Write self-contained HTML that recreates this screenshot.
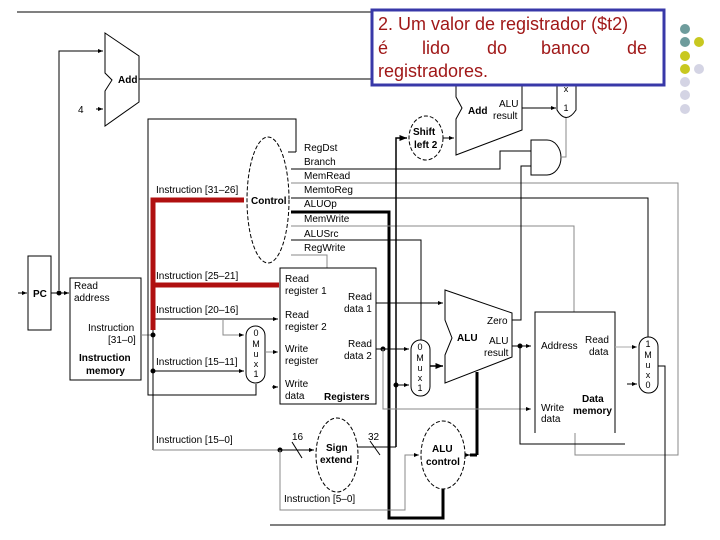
<!DOCTYPE html>
<html><head><meta charset="utf-8"><style>
body{margin:0;background:#fff}
svg{display:block;font-family:"Liberation Sans",sans-serif;font-size:10px}
</style></head><body>
<svg width="720" height="540" viewBox="0 0 720 540" xmlns="http://www.w3.org/2000/svg">
<defs><marker id="a" markerWidth="6" markerHeight="6" refX="5" refY="3" orient="auto"><path d="M0,1 L5,3 L0,5z" fill="#000"/></marker></defs>
<g fill="none" stroke="#000" stroke-width="1">
<line x1="17" y1="12" x2="372" y2="12"/>
<path d="M105,33 L139,56 L139,102 L105,126 L105,91 L112,80 L105,73 Z"/>
<polyline points="59,290 59,51 103,51" marker-end="url(#a)"/>
<line x1="96" y1="109" x2="103" y2="109" marker-end="url(#a)"/>
<line x1="139" y1="79" x2="372" y2="79"/>
<rect x="28" y="256" width="23" height="74"/>
<line x1="18" y1="293" x2="27" y2="293" marker-end="url(#a)"/>
<line x1="51" y1="293" x2="69" y2="293" marker-end="url(#a)"/>
<circle cx="59" cy="293" r="2" fill="#000"/>
<rect x="70" y="278" width="71" height="102"/>
<line x1="141" y1="335" x2="153" y2="335" stroke="#888"/>
<polyline points="296,152 296,119 148,119 148,395 256,395 256,384"/>
<ellipse cx="268" cy="200" rx="21" ry="63" stroke-dasharray="4,2"/>
<line x1="288" y1="152" x2="296" y2="152"/>
<polyline points="291,169 500,169 500,151 531,151"/>
<polyline points="291,183 678,183 678,455 575,455 575,433" stroke="#888"/>
<polyline points="291,198 648,198 648,337"/>
<polyline points="291,212 389,212 389,518 443,518 443,489" stroke-width="3"/>
<polyline points="291,226 574,226 574,312" stroke="#888"/>
<polyline points="291,240 421,240 421,340"/>
<polyline points="291,255 327,255 327,268" stroke="#888"/>
<ellipse cx="426" cy="138" rx="17" ry="22" stroke-dasharray="4,2"/>
<polyline points="396,447 396,138 407,138" stroke-width="1.5" marker-end="url(#a)"/>
<line x1="443" y1="138" x2="454" y2="138" marker-end="url(#a)"/>
<path d="M456,85 L522,85 L522,130 L456,155 L456,119 L462,108 L456,97 Z"/>
<line x1="522" y1="108" x2="556" y2="108" marker-end="url(#a)"/>
<path d="M557,20 L557,110 Q566,125 576,110 L576,20"/>
<path d="M531,140 L547,140 A14,17.5 0 0 1 547,175 L531,175 Z"/>
<polyline points="560,157 566,157 566,118" stroke="#888"/>
<polyline points="512,320 521,320 521,166 531,166"/>
<line x1="153" y1="330" x2="153" y2="450"/>
<line x1="153" y1="319" x2="278" y2="319" marker-end="url(#a)"/>
<polyline points="223,319 223,335 244,335" stroke="#888" marker-end="url(#a)"/>
<line x1="153" y1="371" x2="244" y2="371" marker-end="url(#a)"/>
<circle cx="153" cy="335" r="2" fill="#000"/><circle cx="153" cy="371" r="2" fill="#000"/>
<rect x="246" y="326" width="19" height="57" rx="9.5"/>
<line x1="265" y1="352" x2="278" y2="352" stroke="#888" marker-end="url(#a)"/>
<line x1="272" y1="387" x2="278" y2="387" marker-end="url(#a)"/>
<rect x="280" y="268" width="96" height="136"/>
<polyline points="153,450 280,450" stroke="#888"/>
<circle cx="280" cy="450" r="2" fill="#000"/>
<line x1="280" y1="450" x2="314" y2="450" marker-end="url(#a)"/>
<line x1="292" y1="442" x2="302" y2="458"/>
<polyline points="280,450 280,510 405,510 405,455 419,455" stroke="#888" marker-end="url(#a)"/>
<ellipse cx="337" cy="455" rx="21" ry="37" stroke-dasharray="4,2"/>
<line x1="358" y1="447" x2="396" y2="447"/>
<line x1="370" y1="441" x2="380" y2="455"/>
<ellipse cx="443" cy="455" rx="22" ry="34" stroke-dasharray="4,2"/>
<line x1="465" y1="455" x2="470" y2="455" marker-end="url(#a)"/>
<line x1="470" y1="455" x2="477" y2="455" stroke-width="3"/>
<polyline points="477,455 477,372" stroke-width="3"/>
<path d="M445,290 L512,313 L512,357 L445,383 L445,355 L452,338 L445,320 Z"/>
<line x1="376" y1="303" x2="443" y2="303" marker-end="url(#a)"/>
<line x1="376" y1="349" x2="409" y2="349" marker-end="url(#a)"/>
<circle cx="383" cy="349" r="2" fill="#000"/>
<line x1="396" y1="385" x2="409" y2="385" marker-end="url(#a)"/>
<circle cx="396" cy="385" r="2" fill="#000"/>
<polyline points="383,349 383,409 531,409" stroke="#888" marker-end="url(#a)"/>
<rect x="411" y="340" width="19" height="56" rx="9.5"/>
<line x1="430" y1="366" x2="443" y2="366" stroke-width="1.5" marker-end="url(#a)"/>
<line x1="512" y1="346" x2="531" y2="346" marker-end="url(#a)"/>
<circle cx="520" cy="346" r="2" fill="#000"/>
<polyline points="520,346 520,444 625,444"/>
<path d="M535,433 L535,312 L615,312 L615,433"/>
<line x1="615" y1="347" x2="637" y2="347" stroke="#aaa" marker-end="url(#a)"/>
<line x1="627" y1="384" x2="637" y2="384" marker-end="url(#a)"/>
<rect x="639" y="337" width="19" height="56" rx="9.5"/>
<polyline points="658,366 665,366 665,525 270,525"/>
</g>
<g fill="#000">
<text x="118" y="83" font-weight="bold">Add</text>
<text x="78" y="113">4</text>
<text x="33" y="297" font-weight="bold">PC</text>
<text x="74" y="289">Read</text><text x="74" y="301">address</text>
<text x="88" y="331">Instruction</text><text x="108" y="343">[31–0]</text>
<text x="79" y="361" font-weight="bold">Instruction</text><text x="86" y="374" font-weight="bold">memory</text>
<text x="156" y="193">Instruction [31–26]</text>
<text x="251" y="204" font-weight="bold">Control</text>
<text x="304" y="151">RegDst</text><text x="304" y="165">Branch</text><text x="304" y="179">MemRead</text>
<text x="304" y="193">MemtoReg</text><text x="304" y="207">ALUOp</text><text x="304" y="222">MemWrite</text>
<text x="304" y="237">ALUSrc</text><text x="304" y="251">RegWrite</text>
<text x="156" y="279">Instruction [25–21]</text>
<text x="156" y="313">Instruction [20–16]</text>
<text x="156" y="365">Instruction [15–11]</text>
<text x="156" y="443">Instruction [15–0]</text>
<text x="284" y="502">Instruction [5–0]</text>
<text x="285" y="282">Read</text><text x="285" y="294">register 1</text>
<text x="348" y="300">Read</text><text x="344" y="312">data 1</text>
<text x="285" y="318">Read</text><text x="285" y="330">register 2</text>
<text x="348" y="347">Read</text><text x="344" y="359">data 2</text>
<text x="285" y="352">Write</text><text x="285" y="364">register</text>
<text x="285" y="387">Write</text><text x="285" y="399">data</text>
<text x="324" y="400" font-weight="bold">Registers</text>
<g font-size="9" text-anchor="middle"><text x="256" y="336">0</text><text x="256" y="347">M</text><text x="256" y="357">u</text><text x="256" y="367">x</text><text x="256" y="377">1</text>
<text x="420" y="350">0</text><text x="420" y="361">M</text><text x="420" y="371">u</text><text x="420" y="381">x</text><text x="420" y="391">1</text>
<text x="648" y="347">1</text><text x="648" y="358">M</text><text x="648" y="368">u</text><text x="648" y="378">x</text><text x="648" y="388">0</text>
<text x="566" y="92">x</text><text x="566" y="111">1</text></g>
<text x="413" y="135" font-weight="bold">Shift</text><text x="414" y="148" font-weight="bold">left 2</text>
<text x="468" y="114" font-weight="bold">Add</text>
<text x="499" y="107">ALU</text><text x="493" y="119">result</text>
<text x="457" y="341" font-weight="bold">ALU</text>
<text x="487" y="324">Zero</text><text x="489" y="344">ALU</text><text x="484" y="356">result</text>
<text x="292" y="440">16</text><text x="368" y="440">32</text>
<text x="326" y="451" font-weight="bold">Sign</text><text x="320" y="463" font-weight="bold">extend</text>
<text x="432" y="452" font-weight="bold">ALU</text><text x="426" y="465" font-weight="bold">control</text>
<text x="541" y="349">Address</text>
<text x="585" y="343">Read</text><text x="589" y="355">data</text>
<text x="582" y="402" font-weight="bold">Data</text><text x="573" y="414" font-weight="bold">memory</text>
<text x="541" y="411">Write</text><text x="541" y="422">data</text>
</g>
<rect x="372" y="10" width="292" height="75" fill="#fff" stroke="#3838a8" stroke-width="3"/>
<g fill="#a01818" font-size="18">
<text x="378" y="30">2. Um valor de registrador ($t2)</text>
<text x="378" y="54">é</text><text x="422" y="54">lido</text><text x="487" y="54">do</text><text x="541" y="54">banco</text><text x="627" y="54">de</text>
<text x="378" y="77">registradores.</text>
</g>
<g>
<circle cx="685" cy="29" r="5" fill="#6e9c9c"/>
<circle cx="685" cy="42" r="5" fill="#6e9c9c"/><circle cx="699" cy="42" r="5" fill="#c8c820"/>
<circle cx="685" cy="56" r="5" fill="#c8c820"/>
<circle cx="685" cy="69" r="5" fill="#c8c820"/><circle cx="699" cy="69" r="5" fill="#d4d4e4"/>
<circle cx="685" cy="82" r="5" fill="#d4d4e4"/><circle cx="685" cy="95" r="5" fill="#d4d4e4"/><circle cx="685" cy="109" r="5" fill="#d4d4e4"/>
</g>
<g stroke="#b01010" stroke-width="5" fill="none">
<polyline points="244,200 153,200 153,330"/>
<line x1="153" y1="285" x2="279" y2="285"/>
</g>
</svg>
</body></html>
